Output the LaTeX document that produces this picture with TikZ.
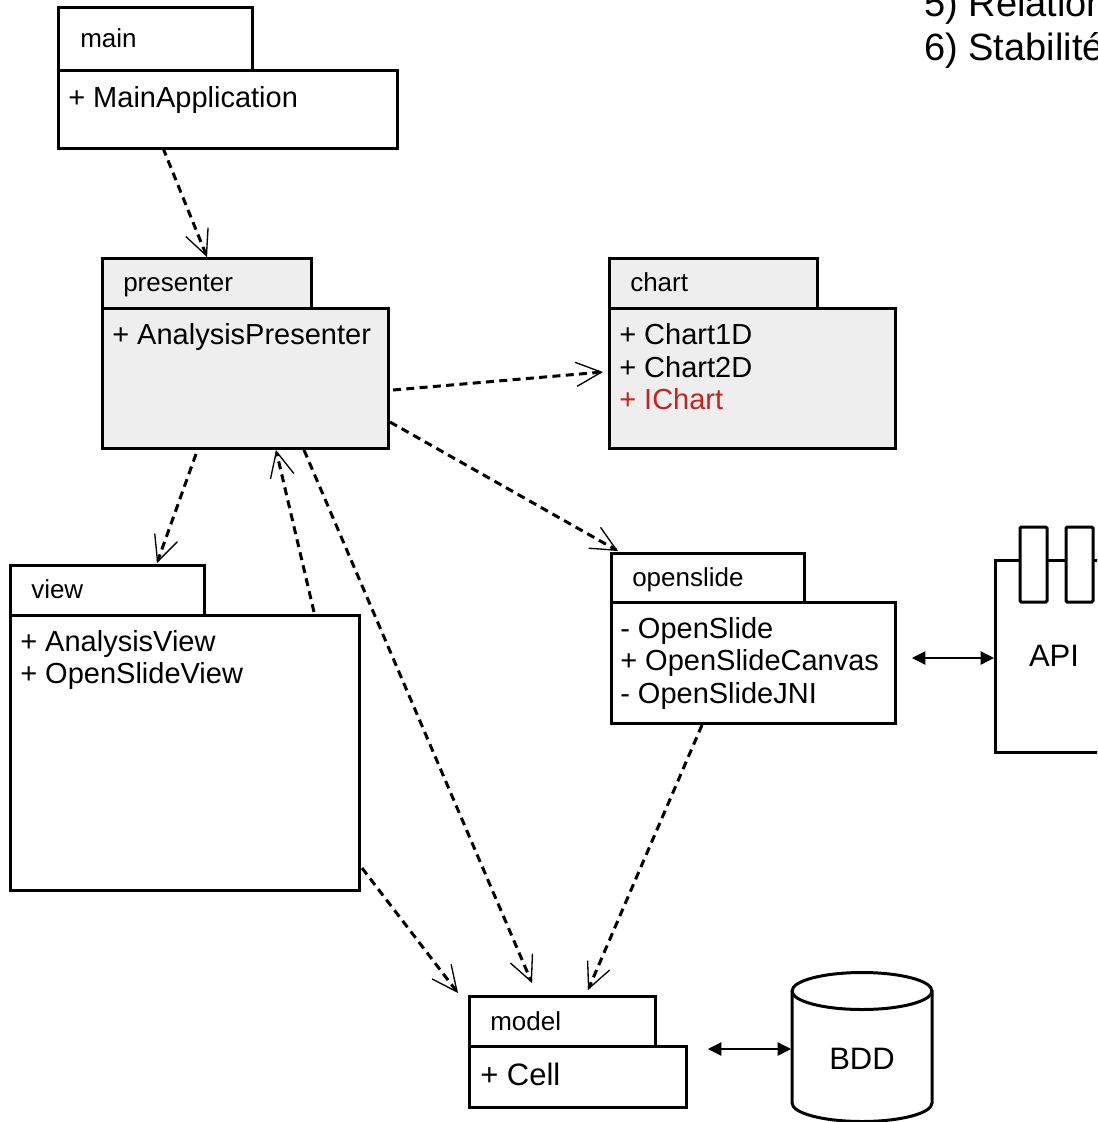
\documentclass[tikz,border=0pt]{standalone}
\usepackage{fontspec}
\setmainfont{Liberation Sans}
\usetikzlibrary{arrows.meta,calc}
\definecolor{pkgfill}{HTML}{EEEEEE}
\definecolor{accent}{HTML}{C9211E}

\begin{document}
\begin{tikzpicture}[x=0.75pt,y=-0.75pt,
  sz/.style 2 args={minimum width=#1*0.75pt, minimum height=#2*0.75pt},
  box/.style={draw, line width=2.25pt, inner sep=0pt, outer sep=0pt, anchor=north west, fill=white},
  grey/.style={fill=pkgfill},
  tablabel/.style={anchor=base west, inner sep=0pt, font=\fontsize{19.5}{23}\selectfont},
  member/.style={anchor=base west, inner sep=0pt, font=\fontsize{21.75}{26}\selectfont},
  bigtext/.style={inner sep=0pt, font=\fontsize{23.25}{28}\selectfont},
  dep/.style={line width=2.25pt, dash pattern=on 6pt off 4pt,
    -{Straight Barb[length=19pt,width=18pt,line width=1pt]}},
  link/.style={line width=1pt,
    {Triangle[length=10pt,width=10pt]}-{Triangle[length=10pt,width=10pt]}},
  dbring/.style={x radius=52.5pt, y radius=13.875pt},
]
\useasboundingbox (0,0) rectangle (1097,1122);
\clip (0,0) rectangle (1097,1122);

% notes in the upper right corner
\node[anchor=base west, inner sep=0pt, font=\fontsize{28.5}{34}\selectfont] (note5) at (924,16) {5) Relation};
\node[anchor=base west, inner sep=0pt, font=\fontsize{28.5}{34}\selectfont] (note6) at (924,60) {6) Stabilité};

% package main
\node[box, sz={194}{63}] (main-tab) at (58,7) {};
\node[box, sz={339}{78}] (main) at (58,70) {};
\node[tablabel] at (80,47) {main};
\node[member] at (68,107) {+ MainApplication};

% package presenter
\node[box, grey, sz={209}{50}] (presenter-tab) at (102,258) {};
\node[box, grey, sz={286}{140}] (presenter) at (102,308) {};
\node[tablabel] at (123,291) {presenter};
\node[member] at (112,344) {+ AnalysisPresenter};

% package chart
\node[box, grey, sz={208}{50}] (chart-tab) at (609,258) {};
\node[box, grey, sz={286}{140}] (chart) at (609,308) {};
\node[tablabel] at (630,291) {chart};
\node[member] at (619,344) {+ Chart1D};
\node[member] at (619,377) {+ Chart2D};
\node[member, text=accent] at (619,409) {+ IChart};

% package view
\node[box, sz={194}{50}] (view-tab) at (10,565) {};
\node[box, sz={349}{275}] (view) at (10,615) {};
\node[tablabel] at (31,598) {view};
\node[member] at (20,651) {+ AnalysisView};
\node[member] at (20,683) {+ OpenSlideView};

% package openslide
\node[box, sz={193}{49}] (openslide-tab) at (611,553) {};
\node[box, sz={284}{121}] (openslide) at (611,602) {};
\node[tablabel] at (632,586) {openslide};
\node[member] at (620,638) {- OpenSlide};
\node[member] at (620,670) {+ OpenSlideCanvas};
\node[member] at (620,703) {- OpenSlideJNI};

% package model
\node[box, sz={186}{50}] (model-tab) at (469,996) {};
\node[box, sz={217}{61}] (model) at (469,1046) {};
\node[tablabel] at (490,1030) {model};
\node[bigtext, anchor=base west] at (480,1085) {+ Cell};

% API component
\node[box, sz={300}{192}] (api) at (995,560) {};
\node[box, sz={27}{75}, rounded corners=1pt] (api-port1) at (1020,527) {};
\node[box, sz={27}{75}, rounded corners=1pt] (api-port2) at (1066,527) {};
\node[bigtext] at (1054,656) {API};

% database cylinder (radii in pt, so the arcs keep their page orientation)
\draw[line width=2.25pt, fill=white]
  (792,991) -- (792,1103) arc[start angle=180, end angle=360, dbring]
  -- (932,991) arc[start angle=0, end angle=180, dbring] -- cycle;
\draw[line width=2.25pt] (792,991) arc[start angle=180, end angle=360, dbring];
\node[bigtext] (bdd) at (862,1059) {BDD};
\coordinate (bdd-w) at (791,1049);

% dependencies
\draw[dep] ($(main.south west)+(105,0)$) -- ($(presenter-tab.north west)+(105,-1)$);
\draw[dep] ($(presenter.north east)+(5,82)$) -- ($(chart.north west)+(-6,64)$);
\draw[dep] ($(presenter.north east)+(2,114)$) -- ($(openslide-tab.north west)+(7,-2)$);
\draw[dep] ($(presenter.south west)+(94,6)$) -- ($(view-tab.north west)+(147,-2)$);
\draw[dep] ($(view.north west)+(304,-3)$) -- ($(presenter.south west)+(174,2)$);
\draw[dep] ($(presenter.south west)+(202,2)$) -- ($(model-tab.north west)+(63,-13)$);
\draw[dep] ($(view.south east)+(3,-22)$) -- ($(model-tab.north west)+(-11,-3)$);
\draw[dep] ($(openslide.south west)+(91,2)$) -- ($(model-tab.north west)+(119,-6)$);

% two-way links
\draw[link] ($(openslide.north east)+(17,56)$) -- ($(api.north west)+(-1,98)$);
\draw[link] ($(model.north east)+(22,3)$) -- (bdd-w);
\end{tikzpicture}
\end{document}
